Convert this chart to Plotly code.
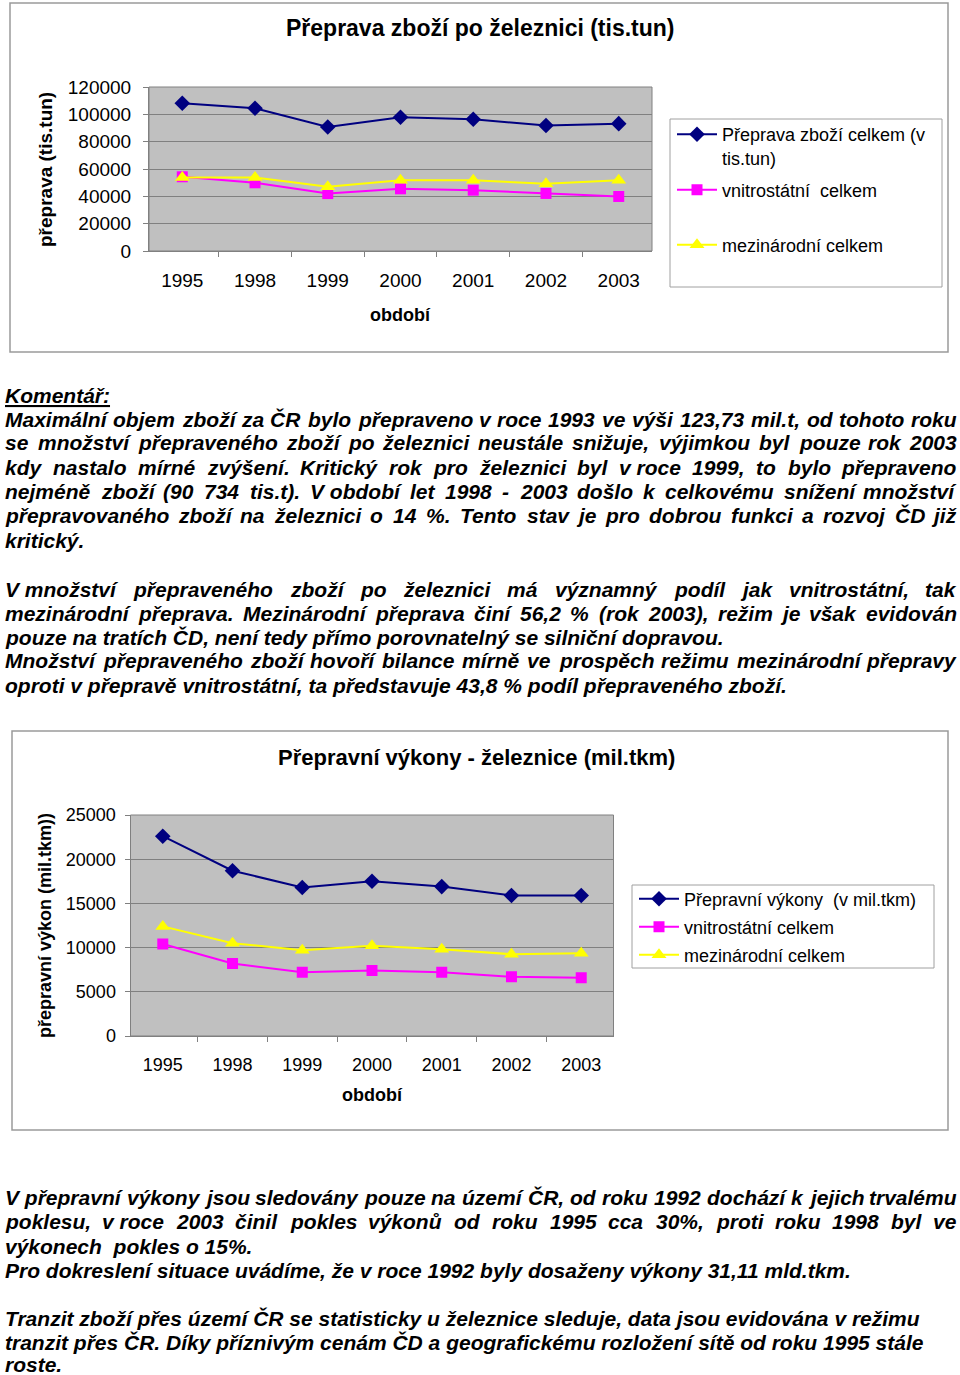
import unicodedata
import plotly.graph_objects as go

W, H = 960, 1375
FONT = "Liberation Sans"

# ---------------- data ----------------
years = ["1995", "1998", "1999", "2000", "2001", "2002", "2003"]

freight_total = [108100, 104400, 90734, 97900, 96400, 91800, 93200]
freight_domestic = [54300, 49900, 42000, 45500, 44500, 42100, 39900]
freight_international = [53800, 53800, 47000, 51800, 51800, 49200, 51800]

perf_total = [22600, 18700, 16800, 17500, 16900, 15900, 15900]
perf_domestic = [10400, 8200, 7200, 7400, 7200, 6700, 6600]
perf_international = [12400, 10500, 9700, 10200, 9800, 9250, 9350]

names1 = ["Přeprava zboží celkem (v<br>tis.tun)", "vnitrostátní  celkem", "mezinárodní celkem"]
names2 = ["Přepravní výkony  (v mil.tkm)", "vnitrostátní celkem", "mezinárodní celkem"]

title1 = "Přeprava zboží po železnici (tis.tun)"
title2 = "Přepravní výkony - železnice (mil.tkm)"
ytitle1 = "přeprava (tis.tun)"
ytitle2 = "přepravní výkon (mil.tkm))"
xtitle = "období"

# text lines: (text, y centre, justified)
NB = "\u00a0"
text_lines = [
    ("Maximální objem zboží za ČR bylo přepraveno v roce 1993 ve výši 123,73 mil.t, od tohoto roku", 419, True),
    ("se množství přepraveného zboží po železnici neustále snižuje, výjimkou byl pouze rok 2003", 443, True),
    ("kdy nastalo mírné zvýšení. Kritický rok pro železnici byl v" + NB + "roce 1999, to bylo přepraveno", 467, True),
    ("nejméně zboží (90 734 tis.t). V" + NB + "období let 1998 - 2003 došlo k celkovému snížení množství", 491, True),
    ("přepravovaného zboží na železnici o 14 %. Tento stav je pro dobrou funkci a rozvoj ČD již", 516, True),
    ("kritický.", 540, False),
    ("V" + NB + "množství přepraveného zboží po železnici má významný podíl jak vnitrostátní, tak", 589, True),
    ("mezinárodní přeprava. Mezinárodní přeprava činí 56,2 % (rok 2003), režim je však evidován", 613, True),
    ("pouze na tratích ČD, není tedy přímo porovnatelný se silniční dopravou.", 637, False),
    ("Množství přepraveného zboží hovoří bilance mírně ve prospěch režimu mezinárodní přepravy", 661, True),
    ("oproti v" + NB + "přepravě vnitrostátní, ta představuje 43,8 % podíl přepraveného zboží.", 685, False),
    ("V" + NB + "přepravní výkony jsou sledovány pouze na území ČR, od roku 1992 dochází k jejich trvalému", 1197, True),
    ("poklesu, v" + NB + "roce 2003 činil pokles výkonů od roku 1995 cca 30%, proti roku 1998 byl ve", 1221, True),
    ("výkonech  pokles o 15%.", 1246, False),
    ("Pro dokreslení situace uvádíme, že v roce 1992 byly dosaženy výkony 31,11 mld.tkm.", 1270, False),
    ("Tranzit zboží přes území ČR se statisticky u železnice sleduje, data jsou evidována v režimu", 1318, False),
    ("tranzit přes ČR. Díky příznivým cenám ČD a geografickému rozložení sítě od roku 1995 stále", 1342, False),
    ("roste.", 1364, False),
]

# ---------------- helpers ----------------
def px(x):
    return x / W


def py(y):
    return 1 - y / H


# Arial Bold advance widths (1/1000 em) - metric compatible with Liberation Sans Bold
AW = {" ": 278, "\u00a0": 278, "!": 333, "%": 889, "(": 333, ")": 333, ",": 278, "-": 333, ".": 278,
      "/": 278, ":": 333, ";": 333}
for d in "0123456789":
    AW[d] = 556
AW.update(dict(zip("ABCDEFGHIJKLMNOPQRSTUVWXYZ",
                   [722, 722, 722, 722, 667, 611, 778, 722, 278, 556, 722, 611, 833, 722, 778, 667, 778,
                    722, 667, 611, 722, 667, 944, 667, 667, 611])))
AW.update(dict(zip("abcdefghijklmnopqrstuvwxyz",
                   [556, 611, 556, 611, 556, 333, 611, 611, 278, 278, 556, 278, 889, 611, 611, 611, 611,
                    389, 556, 333, 611, 556, 778, 556, 556, 500])))


def text_width(s, size):
    tot = 0
    for c in s:
        base = unicodedata.normalize("NFD", c)[0]
        tot += AW.get(base, 556)
    return tot * size / 1000.0


TXT_SIZE = 21
LEFT, RIGHT = 5, 957
PAD = 2

annotations = []


def add_text(s, x, y, size=TXT_SIZE, xanchor="left", bold=True, italic=True, angle=0):
    t = s
    if italic:
        t = "<i>" + t + "</i>"
    if bold:
        t = "<b>" + t + "</b>"
    annotations.append(dict(text=t, x=px(x), y=py(y), xref="paper", yref="paper", xanchor=xanchor,
                            yanchor="middle", showarrow=False, textangle=angle,
                            font=dict(family=FONT, size=size, color="black")))


# Komentář (underlined)
annotations.append(dict(text="<b><i><span style='text-decoration:underline'>Komentář:</span></i></b>",
                        x=px(LEFT - PAD), y=py(395), xref="paper", yref="paper", xanchor="left",
                        yanchor="middle", showarrow=False, font=dict(family=FONT, size=TXT_SIZE, color="black")))

for s, y, just in text_lines:
    if not just:
        add_text(s, LEFT - PAD, y)
        continue
    words = s.split(" ")
    widths = [text_width(w, TXT_SIZE) for w in words]
    gap = (RIGHT - LEFT - sum(widths)) / (len(words) - 1)
    x = LEFT
    for i, (w, wd) in enumerate(zip(words, widths)):
        if i == len(words) - 1:
            add_text(w, RIGHT + PAD, y, xanchor="right")
        elif w[0] in "j":
            add_text(w, x + wd / 2, y, xanchor="center")
        else:
            add_text(w, x - PAD, y)
        x += wd + gap

# chart titles / axis titles
add_text(title1, 480, 28, size=23, xanchor="center", italic=False)
add_text(title2, 476, 757, size=22, xanchor="center", italic=False)
add_text(xtitle, 400, 315, size=18, xanchor="center", italic=False)
add_text(xtitle, 372, 1095, size=18, xanchor="center", italic=False)
add_text(ytitle1, 45, 170, size=19, xanchor="center", italic=False, angle=-90)
add_text(ytitle2, 45, 926, size=18, xanchor="center", italic=False, angle=-90)

# ---------------- figure ----------------
fig = go.Figure()

NAVY, MAG, YEL = "#000080", "#FF00FF", "#FFFF00"
styles = [
    (NAVY, "diamond", 12),
    (MAG, "square", 11),
    (YEL, "triangle-up", 13),
]

series1 = [freight_total, freight_domestic, freight_international]
series2 = [perf_total, perf_domestic, perf_international]
legends1 = ["legend", "legend2", "legend3"]
legends2 = ["legend4", "legend5", "legend6"]

for vals, name, (col, sym, sz), lg in zip(series1, names1, styles, legends1):
    fig.add_trace(go.Scatter(x=years, y=vals, name=name, mode="lines+markers",
                             line=dict(color=col, width=2),
                             marker=dict(color=col, symbol=sym, size=sz, line=dict(width=0)),
                             xaxis="x", yaxis="y", legend=lg))
for vals, name, (col, sym, sz), lg in zip(series2, names2, styles, legends2):
    fig.add_trace(go.Scatter(x=years, y=vals, name=name, mode="lines+markers",
                             line=dict(color=col, width=2),
                             marker=dict(color=col, symbol=sym, size=sz, line=dict(width=0)),
                             xaxis="x2", yaxis="y2", legend=lg))

GRAY = "#808080"
axis_common = dict(showline=True, linecolor=GRAY, linewidth=1, ticks="outside", tickcolor=GRAY,
                   ticklen=5, zeroline=False, automargin=False)

P1 = dict(x0=149, x1=652, y0=87, y1=251)
P2 = dict(x0=130.5, x1=613.5, y0=815, y1=1036)

fig.update_layout(
    xaxis=dict(domain=[px(P1["x0"]), px(P1["x1"])], anchor="y", type="category", tickson="boundaries",
               showgrid=False, tickfont=dict(family=FONT, size=19, color="black"),
               ticklabelstandoff=12, **axis_common),
    yaxis=dict(domain=[py(P1["y1"]), py(P1["y0"])], anchor="x", range=[0, 120000], dtick=20000,
               tickformat="d", showgrid=True, gridcolor=GRAY, gridwidth=1,
               tickfont=dict(family=FONT, size=19, color="black"), ticklabelstandoff=8, **axis_common),
    xaxis2=dict(domain=[px(P2["x0"]), px(P2["x1"])], anchor="y2", type="category", tickson="boundaries",
                showgrid=False, tickfont=dict(family=FONT, size=18, color="black"),
                ticklabelstandoff=12, **axis_common),
    yaxis2=dict(domain=[py(P2["y1"]), py(P2["y0"])], anchor="x2", range=[0, 25000], dtick=5000,
                tickformat="d", showgrid=True, gridcolor=GRAY, gridwidth=1,
                tickfont=dict(family=FONT, size=18, color="black"), ticklabelstandoff=5, **axis_common),
)

leg_common = dict(xanchor="left", yanchor="middle", bgcolor="rgba(0,0,0,0)", borderwidth=0,
                  valign="top", itemclick=False, itemdoubleclick=False, itemwidth=40)
fig.update_layout(
    legend=dict(x=px(672), y=py(146), font=dict(family=FONT, size=18, color="black"), **leg_common),
    legend2=dict(x=px(672), y=py(190), font=dict(family=FONT, size=18, color="black"), **leg_common),
    legend3=dict(x=px(672), y=py(245), font=dict(family=FONT, size=18, color="black"), **leg_common),
    legend4=dict(x=px(634), y=py(899), font=dict(family=FONT, size=18, color="black"), **leg_common),
    legend5=dict(x=px(634), y=py(927), font=dict(family=FONT, size=18, color="black"), **leg_common),
    legend6=dict(x=px(634), y=py(955), font=dict(family=FONT, size=18, color="black"), **leg_common),
)


def rect(x0, y0, x1, y1, color="#999999", width=1, layer="above"):
    return dict(type="rect", xref="paper", yref="paper", x0=px(x0), x1=px(x1), y0=py(y1), y1=py(y0),
                line=dict(color=color, width=width), fillcolor="rgba(0,0,0,0)", layer=layer)


shapes = [
    rect(10, 3, 948, 352, color="#9a9a9a", width=1.5),
    rect(12, 731, 948, 1130, color="#9a9a9a", width=1.5),
    rect(P1["x0"], P1["y0"], P1["x1"], P1["y1"], color=GRAY, width=1, layer="below"),
    rect(P2["x0"], P2["y0"], P2["x1"], P2["y1"], color=GRAY, width=1, layer="below"),
    rect(670, 119, 942, 287, color="#a0a0a0", width=1),
    rect(632, 885, 934, 968, color="#a0a0a0", width=1),
]

fig.update_layout(
    width=W, height=H, autosize=False,
    margin=dict(l=0, r=0, t=0, b=0, pad=0),
    paper_bgcolor="white", plot_bgcolor="#C0C0C0",
    font=dict(family=FONT, color="black"),
    showlegend=True,
    annotations=annotations,
    shapes=shapes,
    template="none",
)

fig.write_html("out.html", config={"displayModeBar": False},
               post_script="document.body.style.margin='0px';")
